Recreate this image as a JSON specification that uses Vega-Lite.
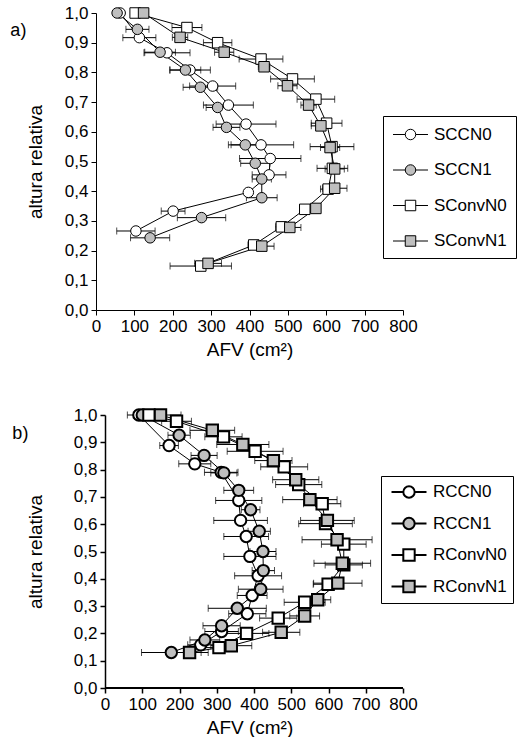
{
  "$schema": "https://vega.github.io/schema/vega-lite/v6.json",
  "background": "white",
  "padding": {"left": 10, "top": 4, "right": 0, "bottom": 0},
  "spacing": 46,
  "resolve": {"scale": {"fill": "independent", "shape": "independent"}, "legend": {"fill": "independent", "shape": "independent"}},
  "datasets": {
    "a": [
      {"s": "SCCN0", "h": 1.0, "v": 63, "e": 6},
      {"s": "SCCN0", "h": 0.917, "v": 113, "e": 43},
      {"s": "SCCN0", "h": 0.866, "v": 185, "e": 60},
      {"s": "SCCN0", "h": 0.808, "v": 245, "e": 53},
      {"s": "SCCN0", "h": 0.754, "v": 304, "e": 60},
      {"s": "SCCN0", "h": 0.69, "v": 345, "e": 65},
      {"s": "SCCN0", "h": 0.626, "v": 391, "e": 78},
      {"s": "SCCN0", "h": 0.556, "v": 430, "e": 85},
      {"s": "SCCN0", "h": 0.51, "v": 454, "e": 80},
      {"s": "SCCN0", "h": 0.455, "v": 451, "e": 44},
      {"s": "SCCN0", "h": 0.396, "v": 397, "e": 10},
      {"s": "SCCN0", "h": 0.333, "v": 201, "e": 31},
      {"s": "SCCN0", "h": 0.266, "v": 104, "e": 50},
      {"s": "SCCN1", "h": 1.0, "v": 55, "e": 8},
      {"s": "SCCN1", "h": 0.945, "v": 108, "e": 30},
      {"s": "SCCN1", "h": 0.868, "v": 167, "e": 40},
      {"s": "SCCN1", "h": 0.808, "v": 233, "e": 40},
      {"s": "SCCN1", "h": 0.75, "v": 272, "e": 45},
      {"s": "SCCN1", "h": 0.682, "v": 317, "e": 30},
      {"s": "SCCN1", "h": 0.615, "v": 340, "e": 35},
      {"s": "SCCN1", "h": 0.556, "v": 389, "e": 37},
      {"s": "SCCN1", "h": 0.494, "v": 415, "e": 38},
      {"s": "SCCN1", "h": 0.441, "v": 432, "e": 25},
      {"s": "SCCN1", "h": 0.378, "v": 432, "e": 40},
      {"s": "SCCN1", "h": 0.311, "v": 275, "e": 63},
      {"s": "SCCN1", "h": 0.243, "v": 141, "e": 51},
      {"s": "SConvN0", "h": 1.0, "v": 102, "e": 10},
      {"s": "SConvN0", "h": 0.951, "v": 237, "e": 39},
      {"s": "SConvN0", "h": 0.9, "v": 317, "e": 37},
      {"s": "SConvN0", "h": 0.845, "v": 430, "e": 57},
      {"s": "SConvN0", "h": 0.778, "v": 512, "e": 57},
      {"s": "SConvN0", "h": 0.71, "v": 573, "e": 49},
      {"s": "SConvN0", "h": 0.629, "v": 601, "e": 40},
      {"s": "SConvN0", "h": 0.55, "v": 615, "e": 57},
      {"s": "SConvN0", "h": 0.477, "v": 616, "e": 40},
      {"s": "SConvN0", "h": 0.407, "v": 605, "e": 20},
      {"s": "SConvN0", "h": 0.339, "v": 544, "e": 10},
      {"s": "SConvN0", "h": 0.28, "v": 483, "e": 15},
      {"s": "SConvN0", "h": 0.219, "v": 411, "e": 15},
      {"s": "SConvN0", "h": 0.148, "v": 273, "e": 80},
      {"s": "SConvN1", "h": 1.0, "v": 124, "e": 10},
      {"s": "SConvN1", "h": 0.918, "v": 219, "e": 20},
      {"s": "SConvN1", "h": 0.868, "v": 334, "e": 25},
      {"s": "SConvN1", "h": 0.819, "v": 438, "e": 15},
      {"s": "SConvN1", "h": 0.755, "v": 499, "e": 25},
      {"s": "SConvN1", "h": 0.69, "v": 554, "e": 20},
      {"s": "SConvN1", "h": 0.62, "v": 586, "e": 25},
      {"s": "SConvN1", "h": 0.547, "v": 610, "e": 25},
      {"s": "SConvN1", "h": 0.475, "v": 622, "e": 25},
      {"s": "SConvN1", "h": 0.41, "v": 622, "e": 32},
      {"s": "SConvN1", "h": 0.342, "v": 573, "e": 10},
      {"s": "SConvN1", "h": 0.278, "v": 505, "e": 29},
      {"s": "SConvN1", "h": 0.215, "v": 432, "e": 32},
      {"s": "SConvN1", "h": 0.157, "v": 292, "e": 35}
    ],
    "b": [
      {"s": "RCCN0", "h": 1.0, "v": 91, "e": 15},
      {"s": "RCCN0", "h": 0.888, "v": 172, "e": 25},
      {"s": "RCCN0", "h": 0.821, "v": 241, "e": 43},
      {"s": "RCCN0", "h": 0.79, "v": 312, "e": 45},
      {"s": "RCCN0", "h": 0.687, "v": 359, "e": 62},
      {"s": "RCCN0", "h": 0.614, "v": 364, "e": 72},
      {"s": "RCCN0", "h": 0.555, "v": 379, "e": 60},
      {"s": "RCCN0", "h": 0.482, "v": 389, "e": 70},
      {"s": "RCCN0", "h": 0.411, "v": 411, "e": 63},
      {"s": "RCCN0", "h": 0.339, "v": 395, "e": 40},
      {"s": "RCCN0", "h": 0.272, "v": 382, "e": 50},
      {"s": "RCCN0", "h": 0.207, "v": 313, "e": 45},
      {"s": "RCCN0", "h": 0.158, "v": 257, "e": 35},
      {"s": "RCCN1", "h": 1.0, "v": 100, "e": 40},
      {"s": "RCCN1", "h": 0.926, "v": 199, "e": 30},
      {"s": "RCCN1", "h": 0.852, "v": 266, "e": 35},
      {"s": "RCCN1", "h": 0.788, "v": 319, "e": 35},
      {"s": "RCCN1", "h": 0.724, "v": 359, "e": 40},
      {"s": "RCCN1", "h": 0.653, "v": 391, "e": 25},
      {"s": "RCCN1", "h": 0.574, "v": 414, "e": 30},
      {"s": "RCCN1", "h": 0.5, "v": 424, "e": 35},
      {"s": "RCCN1", "h": 0.43, "v": 425, "e": 30},
      {"s": "RCCN1", "h": 0.362, "v": 418, "e": 60},
      {"s": "RCCN1", "h": 0.292, "v": 355, "e": 78},
      {"s": "RCCN1", "h": 0.228, "v": 313, "e": 50},
      {"s": "RCCN1", "h": 0.176, "v": 268, "e": 40},
      {"s": "RCCN1", "h": 0.13, "v": 178, "e": 80},
      {"s": "RConvN0", "h": 1.0, "v": 118, "e": 30},
      {"s": "RConvN0", "h": 0.977, "v": 192, "e": 40},
      {"s": "RConvN0", "h": 0.92, "v": 318, "e": 50},
      {"s": "RConvN0", "h": 0.867, "v": 403, "e": 75},
      {"s": "RConvN0", "h": 0.81, "v": 481, "e": 63},
      {"s": "RConvN0", "h": 0.745, "v": 520, "e": 62},
      {"s": "RConvN0", "h": 0.675, "v": 583, "e": 50},
      {"s": "RConvN0", "h": 0.602, "v": 592, "e": 72},
      {"s": "RConvN0", "h": 0.527, "v": 641, "e": 60},
      {"s": "RConvN0", "h": 0.451, "v": 641, "e": 50},
      {"s": "RConvN0", "h": 0.38, "v": 599, "e": 40},
      {"s": "RConvN0", "h": 0.314, "v": 536, "e": 55},
      {"s": "RConvN0", "h": 0.256, "v": 465, "e": 50},
      {"s": "RConvN0", "h": 0.2, "v": 380, "e": 60},
      {"s": "RConvN0", "h": 0.148, "v": 306, "e": 45},
      {"s": "RConvN1", "h": 1.0, "v": 149, "e": 55},
      {"s": "RConvN1", "h": 0.944, "v": 288, "e": 60},
      {"s": "RConvN1", "h": 0.892, "v": 370, "e": 70},
      {"s": "RConvN1", "h": 0.833, "v": 452, "e": 50},
      {"s": "RConvN1", "h": 0.763, "v": 512, "e": 62},
      {"s": "RConvN1", "h": 0.69, "v": 550, "e": 73},
      {"s": "RConvN1", "h": 0.614, "v": 597, "e": 72},
      {"s": "RConvN1", "h": 0.543, "v": 623, "e": 94},
      {"s": "RConvN1", "h": 0.457, "v": 637, "e": 76},
      {"s": "RConvN1", "h": 0.384, "v": 625, "e": 65},
      {"s": "RConvN1", "h": 0.323, "v": 571, "e": 35},
      {"s": "RConvN1", "h": 0.264, "v": 536, "e": 40},
      {"s": "RConvN1", "h": 0.204, "v": 473, "e": 50},
      {"s": "RConvN1", "h": 0.155, "v": 339, "e": 55},
      {"s": "RConvN1", "h": 0.13, "v": 227, "e": 50}
    ]
  },
  "config": {
    "font": "Liberation Sans",
    "view": {"stroke": null},
    "axis": {
      "domainColor": "black", "tickColor": "black", "labelColor": "black", "titleColor": "black",
      "labelFont": "Liberation Sans", "titleFont": "Liberation Sans",
      "labelFontSize": 17, "titleFontSize": 19, "titleFontWeight": "normal",
      "grid": false, "tickSize": 5, "labelPadding": 3, "labelFlush": false, "labelOverlap": false
    },
    "title": {"font": "Liberation Sans", "fontSize": 18, "fontWeight": "normal", "color": "black", "anchor": "start", "offset": 0}
  },
  "vconcat": [
    {
      "data": {"name": "a"},
      "width": 307, "height": 297,
      "title": {"text": "a)", "dy": 40, "dx": -16},
      "resolve": {"scale": {"shape": "independent", "fill": "independent"}, "legend": {"shape": "independent", "fill": "independent"}},
      "encoding": {
        "x": {"field": "v", "type": "quantitative", "scale": {"domain": [0, 800], "nice": false},
              "axis": {"values": [0,100,200,300,400,500,600,700,800], "title": "AFV (cm²)", "titlePadding": 6}},
        "y": {"field": "h", "type": "quantitative", "scale": {"domain": [0, 1], "nice": false},
              "axis": {"values": [0,0.1,0.2,0.3,0.4,0.5,0.6,0.7,0.8,0.9,1], "labelExpr": "replace(format(datum.value, '.1f'), '.', ',')", "title": "altura relativa", "titlePadding": 19}}
      },
      "layer": [
        {"mark": {"type": "point", "filled": true, "stroke": "black", "strokeWidth": 1, "opacity": 0},
         "encoding": {
           "stroke": {"value": "black"},
           "strokeWidth": {"value": 1},
           "shape": {"field": "s", "scale": {"domain": ["SCCN0","SCCN1","SConvN0","SConvN1"], "range": [
               "M-2,0L-0.6,0M0.6,0L2,0M-0.6,0A0.6,0.6,0,1,1,0.6,0A0.6,0.6,0,1,1,-0.6,0Z",
               "M-2,0L-0.6,0M0.6,0L2,0M-0.6,0A0.6,0.6,0,1,1,0.6,0A0.6,0.6,0,1,1,-0.6,0Z",
               "M-2,0L-0.6,0M0.6,0L2,0M-0.6,-0.6L0.6,-0.6L0.6,0.6L-0.6,0.6Z",
               "M-2,0L-0.6,0M0.6,0L2,0M-0.6,-0.6L0.6,-0.6L0.6,0.6L-0.6,0.6Z"]},
             "legend": {"title": null, "orient": "none", "legendX": 287, "legendY": 103, "strokeColor": "black", "padding": 9,
               "symbolSize": 306, "symbolStrokeWidth": 1, "symbolOpacity": 1, "symbolOffset": 9, "labelOffset": 14,
               "labelFont": "Liberation Sans", "labelFontSize": 17, "labelColor": "black", "rowPadding": 17.5}},
           "fill": {"field": "s", "scale": {"domain": ["SCCN0","SCCN1","SConvN0","SConvN1"], "range": ["white","#bfbfbf","white","#bfbfbf"]},
             "legend": {"title": null, "orient": "none", "legendX": 287, "legendY": 103, "strokeColor": "black", "padding": 9,
               "symbolSize": 306, "symbolStrokeWidth": 1, "symbolOpacity": 1, "symbolOffset": 9, "labelOffset": 14,
               "labelFont": "Liberation Sans", "labelFontSize": 17, "labelColor": "black", "rowPadding": 17.5}}
         }},
        {"mark": {"type": "errorbar", "color": "black", "ticks": {"size": 7, "color": "black"}, "rule": {"strokeWidth": 1}},
         "encoding": {"xError": {"field": "e"}}},
        {"mark": {"type": "line", "color": "black", "strokeWidth": 1},
         "encoding": {"detail": {"field": "s"}, "order": {"field": "h", "sort": "descending"}}},
        {"mark": {"type": "point", "filled": true, "stroke": "black", "strokeWidth": 1, "size": 110, "opacity": 1},
         "encoding": {
           "shape": {"field": "s", "scale": {"range": ["circle","circle","square","square"]}, "legend": null},
           "fill": {"field": "s", "scale": {"range": ["white","#bfbfbf","white","#bfbfbf"]}, "legend": null}
         }}
      ]
    },
    {
      "data": {"name": "b"},
      "width": 307, "height": 273,
      "title": {"text": "b)", "dy": 42, "dx": -14},
      "resolve": {"scale": {"shape": "independent", "fill": "independent"}, "legend": {"shape": "independent", "fill": "independent"}},
      "encoding": {
        "x": {"field": "v", "type": "quantitative", "scale": {"domain": [-24.2, 800], "nice": false, "zero": false},
              "axis": {"values": [0,100,200,300,400,500,600,700,800], "title": "AFV (cm²)", "titlePadding": 6, "domain": false, "tickWidth": 1.5}},
        "y": {"field": "h", "type": "quantitative", "scale": {"domain": [0, 1], "nice": false},
              "axis": {"values": [0,0.1,0.2,0.3,0.4,0.5,0.6,0.7,0.8,0.9,1], "labelExpr": "replace(format(datum.value, '.1f'), '.', ',')", "title": "altura relativa", "titlePadding": 28, "offset": -9, "domainWidth": 1.5, "tickWidth": 1.5}}
      },
      "layer": [
        {"mark": {"type": "point", "filled": true, "stroke": "black", "strokeWidth": 2, "opacity": 0},
         "encoding": {
           "stroke": {"value": "black"},
           "strokeWidth": {"value": 2},
           "shape": {"field": "s", "scale": {"domain": ["RCCN0","RCCN1","RConvN0","RConvN1"], "range": [
               "M-2,0L-0.65,0M0.65,0L2,0M-0.65,0A0.65,0.65,0,1,1,0.65,0A0.65,0.65,0,1,1,-0.65,0Z",
               "M-2,0L-0.65,0M0.65,0L2,0M-0.65,0A0.65,0.65,0,1,1,0.65,0A0.65,0.65,0,1,1,-0.65,0Z",
               "M-2,0L-0.65,0M0.65,0L2,0M-0.65,-0.65L0.65,-0.65L0.65,0.65L-0.65,0.65Z",
               "M-2,0L-0.65,0M0.65,0L2,0M-0.65,-0.65L0.65,-0.65L0.65,0.65L-0.65,0.65Z"]},
             "legend": {"title": null, "orient": "none", "legendX": 285, "legendY": 61, "strokeColor": "black", "padding": 6,
               "symbolSize": 306, "symbolStrokeWidth": 2, "symbolOpacity": 1, "symbolOffset": 12, "labelOffset": 14,
               "labelFont": "Liberation Sans", "labelFontSize": 17, "labelColor": "black", "rowPadding": 11.5}},
           "fill": {"field": "s", "scale": {"domain": ["RCCN0","RCCN1","RConvN0","RConvN1"], "range": ["white","#bfbfbf","white","#bfbfbf"]},
             "legend": {"title": null, "orient": "none", "legendX": 285, "legendY": 61, "strokeColor": "black", "padding": 6,
               "symbolSize": 306, "symbolStrokeWidth": 2, "symbolOpacity": 1, "symbolOffset": 12, "labelOffset": 14,
               "labelFont": "Liberation Sans", "labelFontSize": 17, "labelColor": "black", "rowPadding": 11.5}}
         }},
        {"mark": {"type": "rule", "color": "black", "strokeWidth": 1.5},
         "encoding": {"x": {"datum": 0}, "x2": {"datum": 800}, "y": {"datum": 0}}},
        {"mark": {"type": "errorbar", "color": "black", "ticks": {"size": 7, "color": "black"}, "rule": {"strokeWidth": 1}},
         "encoding": {"xError": {"field": "e"}}},
        {"mark": {"type": "line", "color": "black", "strokeWidth": 1},
         "encoding": {"detail": {"field": "s"}, "order": {"field": "h", "sort": "descending"}}},
        {"mark": {"type": "point", "filled": true, "stroke": "black", "strokeWidth": 2, "size": 130, "opacity": 1},
         "encoding": {
           "shape": {"field": "s", "scale": {"range": ["circle","circle","square","square"]}, "legend": null},
           "fill": {"field": "s", "scale": {"range": ["white","#bfbfbf","white","#bfbfbf"]}, "legend": null}
         }}
      ]
    }
  ]
}
